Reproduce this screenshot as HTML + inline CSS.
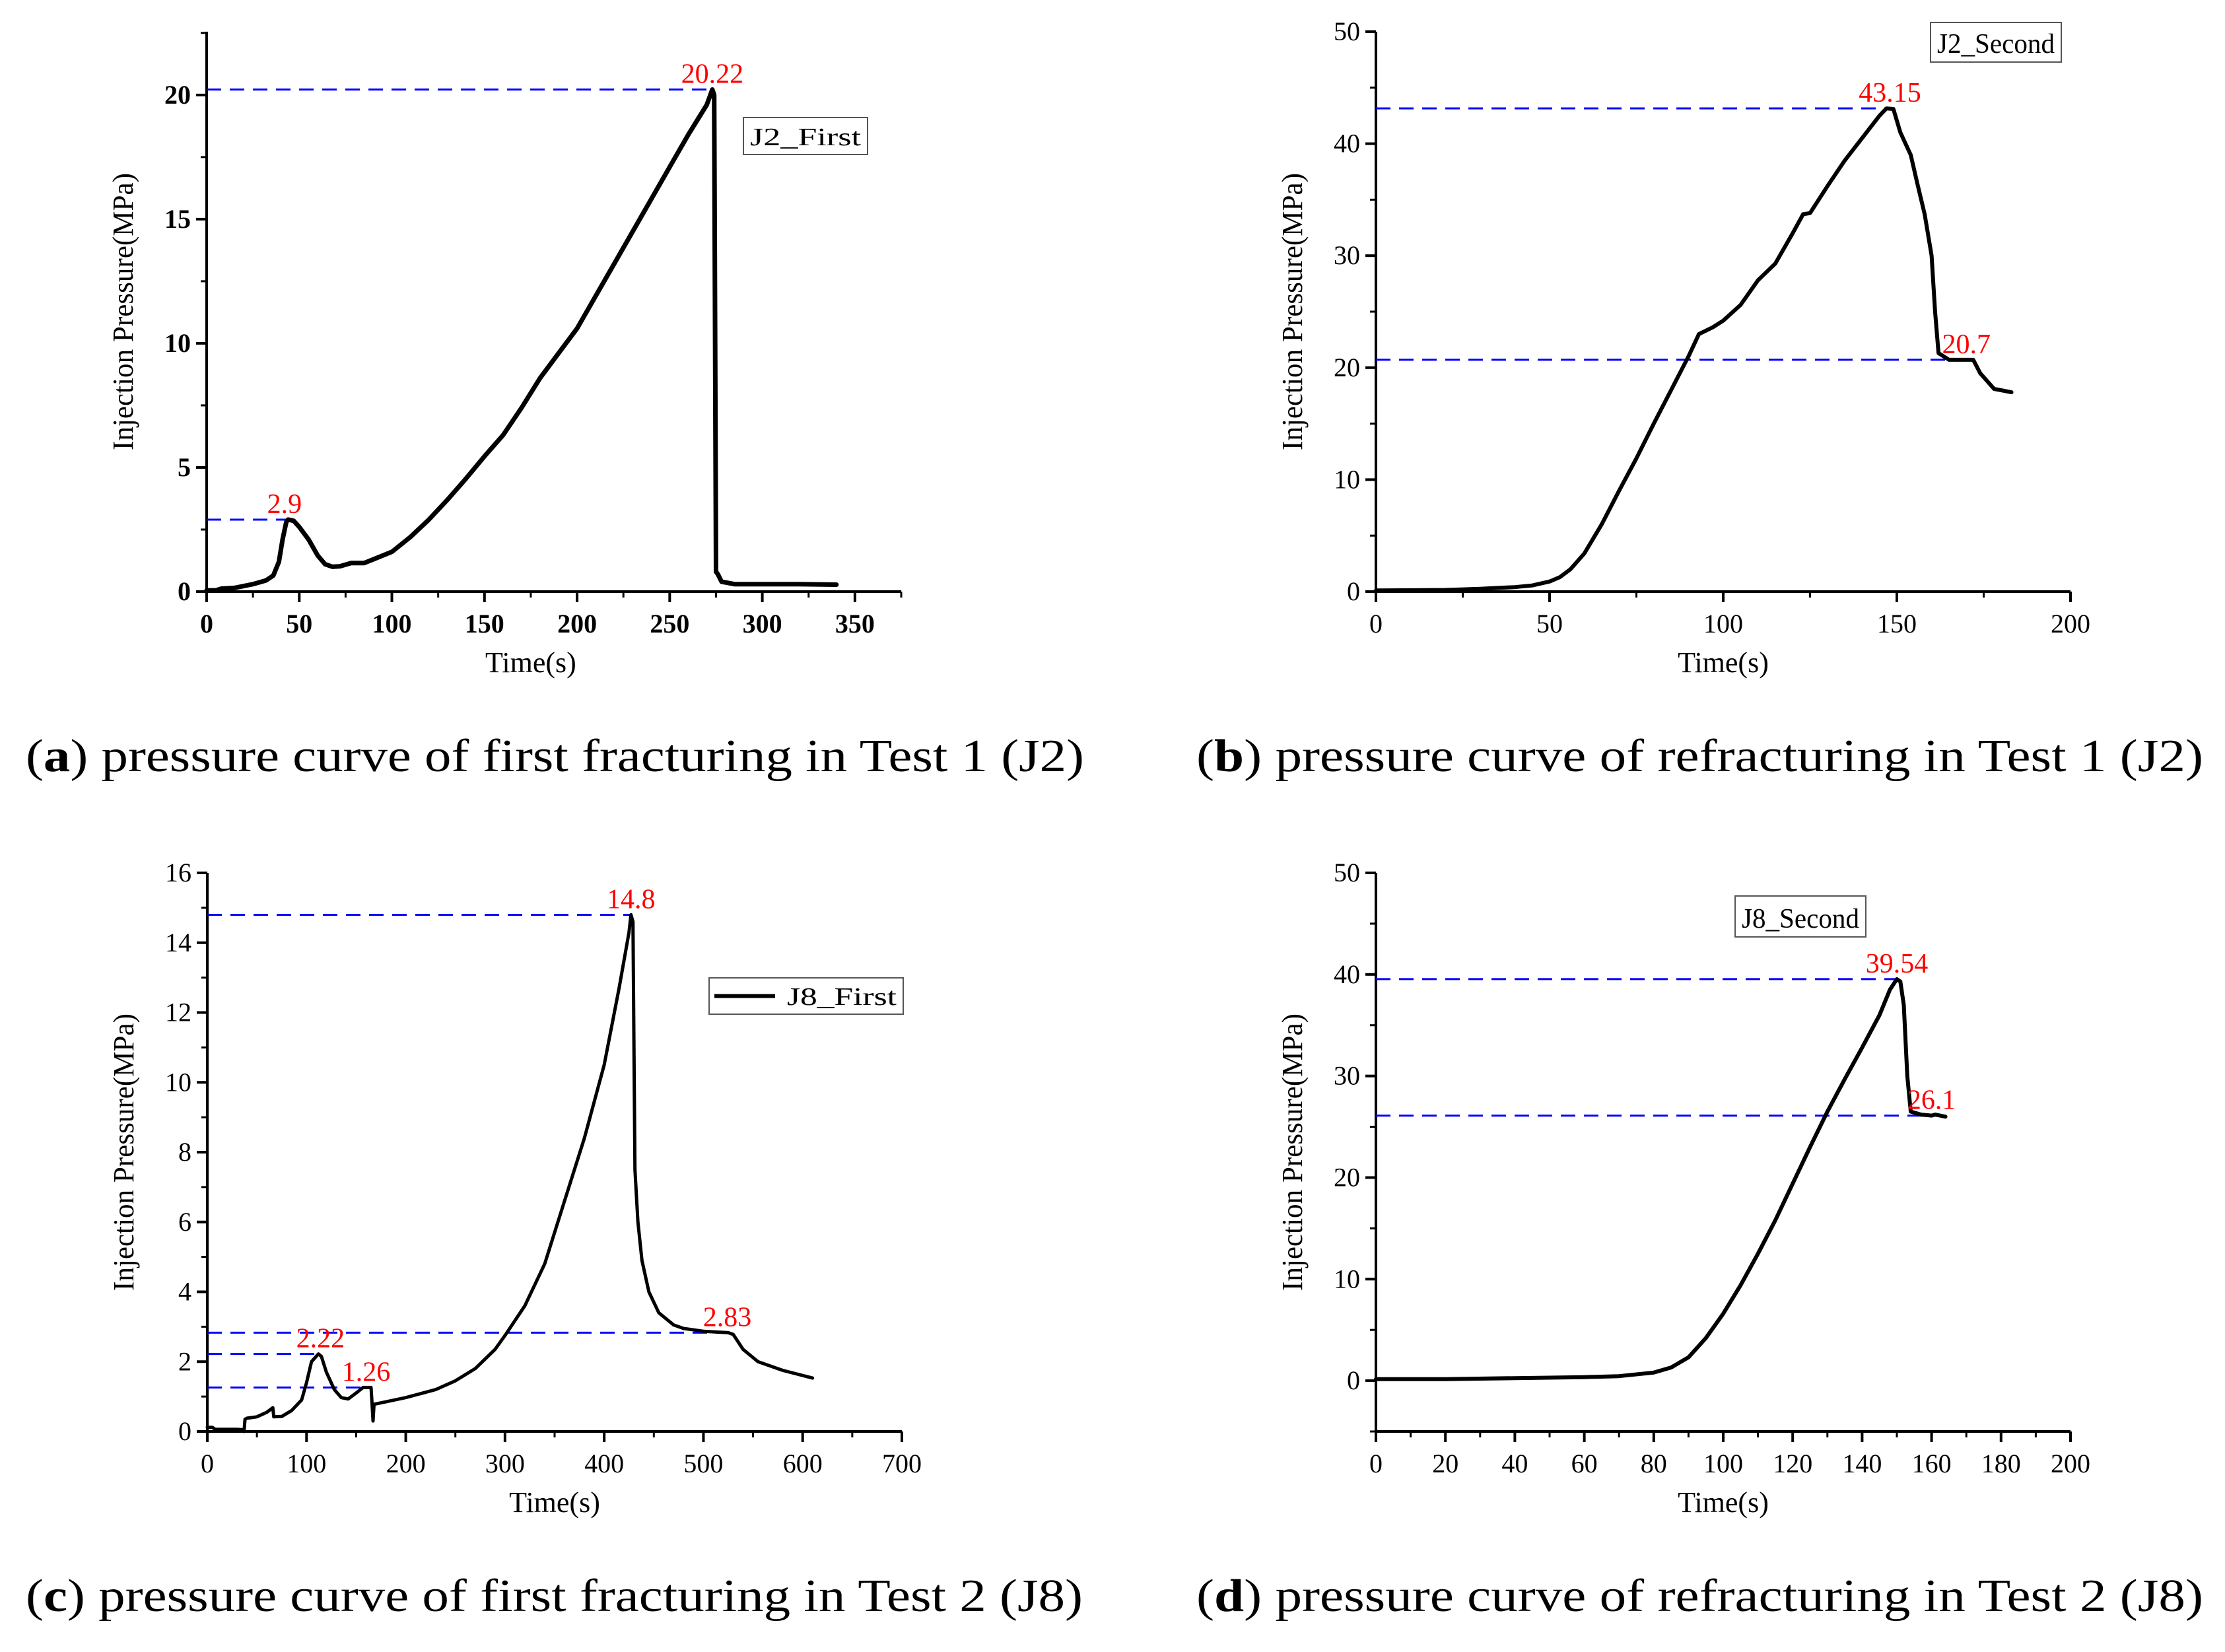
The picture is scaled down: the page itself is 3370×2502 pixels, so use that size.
<!DOCTYPE html>
<html><head><meta charset="utf-8"><style>
html,body{margin:0;padding:0;background:#fff;}
svg{display:block;}
text{font-family:"Liberation Serif","Times New Roman",Times,serif;}
</style></head><body>
<svg id="fig" width="3370" height="2502" viewBox="0 0 3370 2502" xmlns="http://www.w3.org/2000/svg">
<g><text font-family="Liberation Serif, serif" x="39" y="1168" font-size="70" textLength="1603" lengthAdjust="spacingAndGlyphs">(<tspan font-weight="bold">a</tspan>) pressure curve of first fracturing in Test 1 (J2)</text></g>
<g><text font-family="Liberation Serif, serif" x="1812" y="1168" font-size="70" textLength="1525" lengthAdjust="spacingAndGlyphs">(<tspan font-weight="bold">b</tspan>) pressure curve of refracturing in Test 1 (J2)</text></g>
<g><text font-family="Liberation Serif, serif" x="39" y="2440" font-size="70" textLength="1601" lengthAdjust="spacingAndGlyphs">(<tspan font-weight="bold">c</tspan>) pressure curve of first fracturing in Test 2 (J8)</text></g>
<g><text font-family="Liberation Serif, serif" x="1812" y="2440" font-size="70" textLength="1525" lengthAdjust="spacingAndGlyphs">(<tspan font-weight="bold">d</tspan>) pressure curve of refracturing in Test 2 (J8)</text></g>
</svg>
<script>
// ---- Chart A data ----
const aTime = [0,5,8,15,25,32,36,39,41,43,44,47,50,55,60,64,68,72,78,85,90,100,110,120,130,140,150,160,170,180,190,200,210,220,230,240,250,260,270,273,274,275,276,278,285,300,320,340];
const aPressure = [0.05,0.05,0.12,0.15,0.3,0.45,0.65,1.2,2.1,2.8,2.9,2.85,2.6,2.1,1.45,1.1,1.0,1.02,1.15,1.15,1.3,1.6,2.2,2.9,3.7,4.55,5.45,6.3,7.4,8.6,9.6,10.6,11.9,13.2,14.5,15.8,17.1,18.4,19.6,20.22,20.0,0.8,0.7,0.4,0.3,0.3,0.3,0.28];
const aXTicks = [0,50,100,150,200,250,300,350];
const aYTicks = [0,5,10,15,20];
const aPeakValues = [20.22,2.9];
const aPeakTimes = [273,44];
const aLabelTimes = [273,42];
// ---- Chart B data ----
const bTime = [0,20,30,40,45,50,53,56,60,65,70,75,80,85,90,93,97,100,105,110,115,120,123,125,130,135,140,145,147,149,151,154,156,158,160,161,162,165,172,174,178,183];
const bPressure = [0.1,0.15,0.25,0.4,0.55,0.9,1.3,2.0,3.4,6.0,9.0,11.9,15.0,18.0,21.0,23.0,23.6,24.2,25.6,27.8,29.3,32.0,33.7,33.8,36.2,38.5,40.5,42.5,43.15,43.1,41.0,39.0,36.3,33.7,30.0,25.0,21.3,20.7,20.7,19.5,18.1,17.8];
const bXTicks = [0,50,100,150,200];
const bYTicks = [0,10,20,30,40,50];
const bPeakValues = [43.15,20.7];
const bPeakTimes = [148,166];
const bLabelTimes = [148,170];
// ---- Chart C data ----
const cTime = [0,5,8,30,36,37,38,40,50,60,66,67,75,85,95,100,105,112,115,120,128,135,142,150,157,165,166,167,168,180,200,230,250,270,290,300,320,340,360,380,400,415,425,427,429,430,431,434,438,445,455,470,480,500,525,530,540,555,580,610];
const cPressure = [0.12,0.12,0.06,0.06,0.05,0.0,0.35,0.38,0.42,0.55,0.68,0.42,0.43,0.6,0.9,1.4,2.0,2.22,2.15,1.7,1.2,0.97,0.93,1.1,1.26,1.26,0.8,0.3,0.78,0.85,0.97,1.2,1.45,1.8,2.35,2.75,3.6,4.8,6.6,8.4,10.5,12.7,14.3,14.8,14.6,11.0,7.5,6.0,4.9,4.0,3.4,3.05,2.95,2.87,2.83,2.78,2.35,2.0,1.75,1.53];
const cXTicks = [0,100,200,300,400,500,600,700];
const cYTicks = [0,2,4,6,8,10,12,14,16];
const cPeakValues = [14.8,2.83,2.22,1.26];
const cPeakTimes = [427,527,112,160];
const cLabelTimes = [427,524,114,160];
// ---- Chart D data ----
const dTime = [0,20,40,60,70,80,85,90,95,100,105,110,115,120,125,130,135,140,145,148,150,151,152,153,154,157,160,161,164];
const dPressure = [0.15,0.15,0.25,0.35,0.45,0.8,1.3,2.3,4.2,6.6,9.4,12.5,15.8,19.4,23.0,26.5,29.7,32.8,36.0,38.5,39.54,39.3,37.0,30.0,26.5,26.2,26.1,26.2,26.0];
const dXTicks = [0,20,40,60,80,100,120,140,160,180,200];
const dYTicks = [0,10,20,30,40,50];
const dPeakValues = [39.54,26.1];
const dPeakTimes = [150,160];
const dLabelTimes = [150,160];

const NS = "http://www.w3.org/2000/svg";
const fig = document.getElementById('fig');
const SERIF = 'Liberation Serif, Times New Roman, serif';
function mk(tag, attrs, parent){const e=document.createElementNS(NS,tag);for(const k in attrs)e.setAttribute(k,attrs[k]);(parent||fig).appendChild(e);return e;}

function drawChart(c){
  const g = mk('g',{});
  
  
  const X = v => c.x0 + (v - c.xmin)/(c.xmax - c.xmin)*(c.x1 - c.x0);
  const Y = v => c.y0 - (v - c.ymin)/(c.ymax - c.ymin)*(c.y0 - c.y1);
  const fw = c.bold ? 'bold' : 'normal';
  const xa = mk('line',{x1:c.x0-2,y1:c.y0,x2:c.x1,y2:c.y0,stroke:'#000','stroke-width':4},g);
  
  
  const ya = mk('line',{x1:c.x0,y1:c.y0+2,x2:c.x0,y2:c.y1,stroke:'#000','stroke-width':4},g);
  
  
  for(let v=c.xmin; v<=c.xmax+1e-9; v+=c.xminor){
    mk('line',{x1:X(v),y1:c.y0,x2:X(v),y2:c.y0+9,stroke:'#000','stroke-width':3},g);
  }
  for(let v=c.ymin; v<=c.ymax+1e-9; v+=c.yminor){
    mk('line',{x1:c.x0,y1:Y(v),x2:c.x0-9,y2:Y(v),stroke:'#000','stroke-width':3},g);
  }
  c.xticks.forEach(v=>{
    mk('line',{x1:X(v),y1:c.y0,x2:X(v),y2:c.y0+16,stroke:'#000','stroke-width':4},g);
    const t = mk('text',{x:X(v),y:c.y0+62,'font-size':40,'text-anchor':'middle','font-weight':fw,'font-family':SERIF},g);
    t.textContent = v;
    
    
  });
  c.yticks.forEach(v=>{
    mk('line',{x1:c.x0,y1:Y(v),x2:c.x0-16,y2:Y(v),stroke:'#000','stroke-width':4},g);
    const t = mk('text',{x:c.x0-24,y:Y(v)+13,'font-size':40,'text-anchor':'end','font-weight':fw,'font-family':SERIF},g);
    t.textContent = v;
    
    
  });
  const xt = mk('text',{x:(c.x0+X(c.xticks[c.xticks.length-1]))/2,y:c.y0+122,'font-size':44,'text-anchor':'middle','font-family':SERIF},g);
  xt.textContent = 'Time(s)';
  
  
  const ym = (c.y0 + c.y1)/2;
  const yt = mk('text',{x:0,y:0,'font-size':44,'text-anchor':'middle','font-family':SERIF,textLength:420,lengthAdjust:'spacingAndGlyphs',transform:`translate(${c.x0-112},${ym}) rotate(-90)`},g);
  yt.textContent = 'Injection Pressure(MPa)';
  
  
  c.pv.forEach((v,i)=>{
    const l = mk('line',{x1:c.x0,y1:Y(v),x2:X(c.pt[i]),y2:Y(v),stroke:'#0000ff','stroke-width':3,'stroke-dasharray':'22,13'},g);
    
    
  });
  const d = c.t.map((tv,i)=>(i?'L':'M')+X(tv).toFixed(1)+','+Y(c.p[i]).toFixed(1)).join(' ');
  const path = mk('path',{d:d,fill:'none',stroke:'#000','stroke-width':c.lw,'stroke-linejoin':'round','stroke-linecap':'round'},g);
  
  
  c.pv.forEach((v,i)=>{
    const t = mk('text',{x:X(c.lt[i]),y:Y(v)-10,'font-size':42,fill:'#ff0000','text-anchor':'middle','font-family':SERIF},g);
    t.textContent = v;
    
    
  });
  const lg = mk('g',{},g);
  
  
  mk('rect',{x:c.leg[0],y:c.leg[1],width:c.leg[2]-c.leg[0],height:c.leg[3]-c.leg[1],fill:'#fff',stroke:'#555','stroke-width':2},lg);
  let tx = c.leg[0]+10;
  if(c.legLine){
    mk('line',{x1:c.leg[0]+8,y1:(c.leg[1]+c.leg[3])/2,x2:c.leg[0]+100,y2:(c.leg[1]+c.leg[3])/2,stroke:'#000','stroke-width':6},lg);
    tx = c.leg[0]+118;
  }
  const lt = mk('text',{x:tx,y:c.leg[3]-14,'font-size':c.legMono?38:42,'font-family':c.legMono?'Liberation Mono, monospace':SERIF,textLength:c.leg[2]-tx-10,lengthAdjust:'spacingAndGlyphs'},lg);
  lt.textContent = c.legText;
}

drawChart({name:'chart-a-j2-first',x0:313,x1:1365,xmin:0,xmax:375,y0:896,y1:48,ymin:0,ymax:22.55,xticks:aXTicks,yticks:aYTicks,xminor:25,yminor:2.5,bold:true,t:aTime,p:aPressure,pv:aPeakValues,pt:aPeakTimes,lt:aLabelTimes,lw:7,leg:[1126,178,1314,234],legText:'J2_First',legMono:true});
drawChart({name:'chart-b-j2-second',x0:2084,x1:3136,xmin:0,xmax:200,y0:896,y1:48,ymin:0,ymax:50,xticks:bXTicks,yticks:bYTicks,xminor:25,yminor:5,bold:false,t:bTime,p:bPressure,pv:bPeakValues,pt:bPeakTimes,lt:bLabelTimes,lw:6,leg:[2924,34,3122,94],legText:'J2_Second',legMono:false});
drawChart({name:'chart-c-j8-first',x0:314,x1:1366,xmin:0,xmax:700,y0:2168,y1:1322,ymin:0,ymax:16,xticks:cXTicks,yticks:cYTicks,xminor:50,yminor:1,bold:false,t:cTime,p:cPressure,pv:cPeakValues,pt:cPeakTimes,lt:cLabelTimes,lw:5,leg:[1074,1481,1368,1536],legText:'J8_First',legMono:true,legLine:true});
drawChart({name:'chart-d-j8-second',x0:2084,x1:3136,xmin:0,xmax:200,y0:2168,y1:1322,ymin:-5,ymax:50,xticks:dXTicks,yticks:dYTicks,xminor:10,yminor:5,bold:false,t:dTime,p:dPressure,pv:dPeakValues,pt:dPeakTimes,lt:dLabelTimes,lw:6,leg:[2628,1357,2826,1419],legText:'J8_Second',legMono:false});
</script>
</body></html>
